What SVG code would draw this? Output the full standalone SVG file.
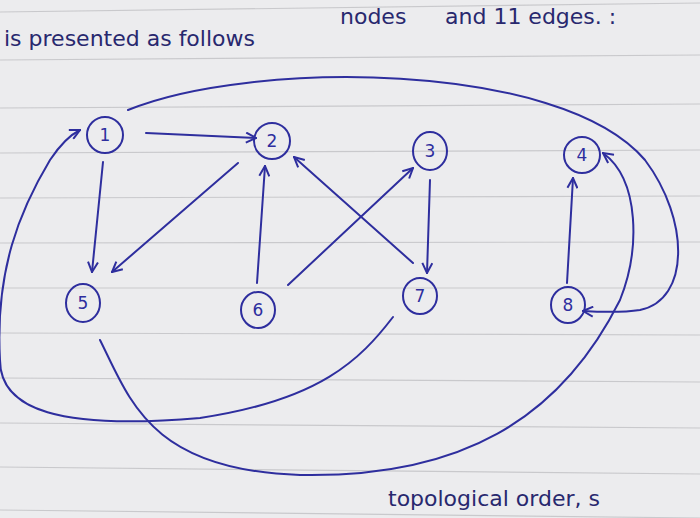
<svg xmlns="http://www.w3.org/2000/svg" width="700" height="518" viewBox="0 0 700 518">
<style>
.ink{fill:none;stroke:#2e2e9e;stroke-width:2;stroke-linecap:round}
.n ellipse{fill:none;stroke:#2e2e9e;stroke-width:2}
.n text,.t{font-family:"DejaVu Sans",sans-serif;fill:#2e2e9e;font-size:17px;text-anchor:middle;dominant-baseline:central}
.t{text-anchor:start;font-size:22px;fill:#28286e}
.rule{stroke:#c9c9cc;stroke-width:1.2}
</style>
<defs><marker id="a" viewBox="0 0 12 12" refX="11" refY="6" markerWidth="12" markerHeight="12" markerUnits="userSpaceOnUse" orient="auto"><path d="M1,1 L11,6 L1,11" fill="none" stroke="#2e2e9e" stroke-width="2"/></marker></defs>
<rect width="700" height="518" fill="#ececee"/>
<g>
<line class="rule" x1="0" y1="12" x2="700" y2="3"/><line class="rule" x1="0" y1="60" x2="700" y2="55"/>
<line class="rule" x1="0" y1="108" x2="700" y2="104"/><line class="rule" x1="0" y1="153" x2="700" y2="150"/>
<line class="rule" x1="0" y1="198" x2="700" y2="196"/><line class="rule" x1="0" y1="243" x2="700" y2="242"/>
<line class="rule" x1="0" y1="288" x2="700" y2="288"/><line class="rule" x1="0" y1="333" x2="700" y2="335"/>
<line class="rule" x1="0" y1="378" x2="700" y2="382"/><line class="rule" x1="0" y1="423" x2="700" y2="428"/>
<line class="rule" x1="0" y1="467" x2="700" y2="474"/><line class="rule" x1="0" y1="510" x2="700" y2="518"/>
</g>
<text class="t" x="445" y="16">and 11 edges. :</text>
<text class="t" x="340" y="16">nodes</text>
<text class="t" x="4" y="38">is presented as follows</text>
<text class="t" x="388" y="498">topological order, s</text>
<g id="connectors">
<path class="ink" marker-end="url(#a)" d="M146,133 L256,138"/>
<path class="ink" marker-end="url(#a)" d="M103,162 L92,272"/>
<path class="ink" marker-end="url(#a)" d="M238,163 L112,272"/>
<path class="ink" marker-end="url(#a)" d="M257,283 L265,166"/>
<path class="ink" marker-end="url(#a)" d="M288,285 L413,168"/>
<path class="ink" marker-end="url(#a)" d="M430,180 L427,273"/>
<path class="ink" marker-end="url(#a)" d="M413,263 L294,157"/>
<path class="ink" marker-end="url(#a)" d="M567,283 L573,178"/>
<path class="ink" marker-end="url(#a)" d="M128,110 C250,60 560,60 645,160 C690,220 690,300 640,310 C620,313 600,312 583,311"/>
<path class="ink" marker-end="url(#a)" d="M100,340 C130,400 150,470 300,475 C460,478 560,420 620,300 C640,250 640,180 603,153"/>
<path class="ink" marker-end="url(#a)" d="M393,317 C360,360 320,400 200,418 C60,430 0,410 0,360 C-5,270 20,210 50,160 C60,145 70,135 80,130"/>
</g>
<g id="n1" class="n"><ellipse cx="105" cy="135" rx="18" ry="18"/><text x="105" y="135">1</text></g>
<g id="n2" class="n"><ellipse cx="272" cy="141" rx="18" ry="18"/><text x="272" y="141">2</text></g>
<g id="n3" class="n"><ellipse cx="430" cy="151" rx="17" ry="19"/><text x="430" y="151">3</text></g>
<g id="n4" class="n"><ellipse cx="582" cy="155" rx="18" ry="18"/><text x="582" y="155">4</text></g>
<g id="n5" class="n"><ellipse cx="83" cy="303" rx="17" ry="19"/><text x="83" y="303">5</text></g>
<g id="n6" class="n"><ellipse cx="258" cy="310" rx="17" ry="18"/><text x="258" y="310">6</text></g>
<g id="n7" class="n"><ellipse cx="420" cy="296" rx="17" ry="18"/><text x="420" y="296">7</text></g>
<g id="n8" class="n"><ellipse cx="568" cy="305" rx="17" ry="18"/><text x="568" y="305">8</text></g>
</svg>
